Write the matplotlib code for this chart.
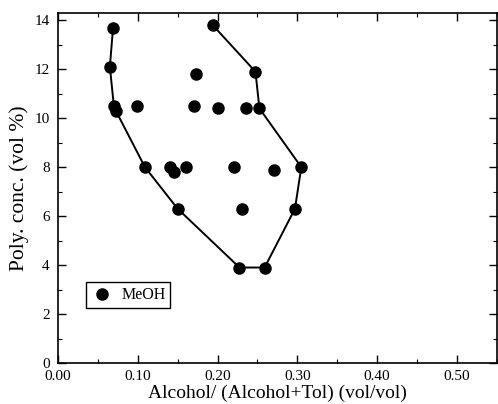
import matplotlib.pyplot as plt
from matplotlib.ticker import MultipleLocator

plt.rcParams['font.family'] = ['Liberation Serif', 'DejaVu Serif']

# Phase boundary (open curve), left branch down, then right branch up
line_x = [0.069, 0.065, 0.070, 0.0725, 0.109, 0.150, 0.2275, 0.259, 0.297, 0.305, 0.2525, 0.2475, 0.194]
line_y = [13.7, 12.1, 10.5, 10.3, 8.0, 6.3, 3.9, 3.9, 6.3, 8.0, 10.4, 11.9, 13.8]

# Interior measured points
pts_x = [0.099, 0.1725, 0.171, 0.201, 0.236, 0.140, 0.145, 0.161, 0.221, 0.271, 0.231]
pts_y = [10.5, 11.8, 10.5, 10.4, 10.4, 8.0, 7.8, 8.0, 8.0, 7.9, 6.3]

fig = plt.figure(figsize=(4.98, 4.04), dpi=100)
ax = fig.add_axes([0.1165, 0.1015, 0.881, 0.8665])

ax.plot(line_x, line_y, color='black', lw=1.4, marker='o', ms=8, zorder=3)
ax.plot(pts_x, pts_y, 'o', color='black', ms=8, zorder=3, label='MeOH')

ax.set_xlim(0, 0.55)
ax.set_ylim(0, 14.3)
ax.xaxis.set_major_locator(MultipleLocator(0.1))
ax.xaxis.set_minor_locator(MultipleLocator(0.05))
ax.yaxis.set_major_locator(MultipleLocator(2))
ax.yaxis.set_minor_locator(MultipleLocator(1))
ax.xaxis.set_major_formatter(lambda v, p: f'{v:.2f}')
ax.tick_params(which='both', direction='in', top=True, right=True, labelsize=11)
ax.tick_params(axis='x', pad=5)
ax.tick_params(axis='y', pad=6)
ax.tick_params(which='major', length=6, width=1)
ax.tick_params(which='minor', length=3, width=0.8)
for s in ax.spines.values():
    s.set_linewidth(1.2)

ax.set_xlabel('Alcohol/ (Alcohol+Tol) (vol/vol)', fontsize=14, labelpad=1)
ax.set_ylabel('Poly. conc. (vol %)', fontsize=15.5, labelpad=4)

leg = ax.legend(loc='lower left', bbox_to_anchor=(0.064, 0.157), borderaxespad=0,
                fancybox=False, edgecolor='black', framealpha=1, fontsize=11.5,
                handletextpad=0.5, borderpad=0.3, handlelength=1.4)
leg.get_frame().set_linewidth(1.0)

fig.savefig('out.png', dpi=100)
